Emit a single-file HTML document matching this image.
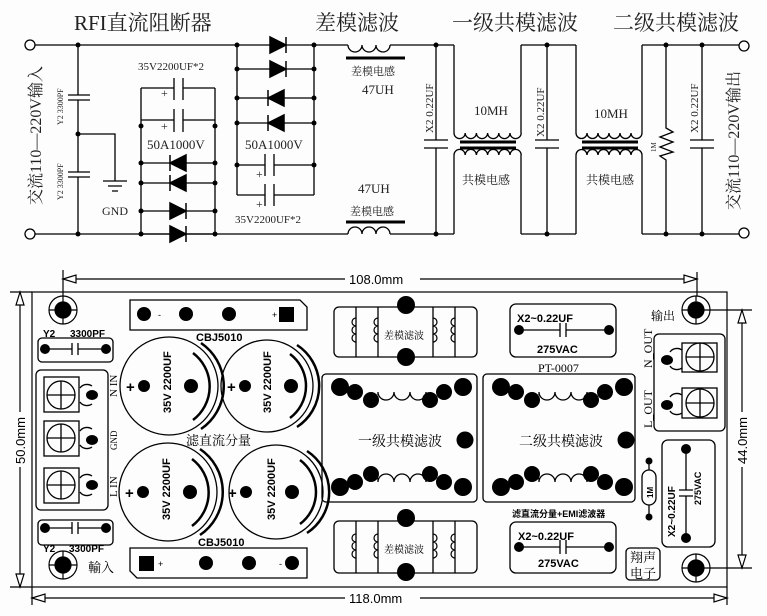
<!DOCTYPE html>
<html><head><meta charset="utf-8"><style>
html,body{margin:0;padding:0;background:#fff;}
svg{display:block;}
.s{font-family:"Liberation Serif","Noto Serif CJK SC",serif;}
.b{font-family:"Liberation Sans","Noto Sans CJK SC",sans-serif;font-weight:bold;}
</style></head><body>
<svg width="767" height="616" viewBox="0 0 767 616" xmlns="http://www.w3.org/2000/svg">
<rect width="767" height="616" fill="#fdfdfd"/>
<g stroke="#000" stroke-width="1.3" fill="none">
<circle cx="30" cy="45" r="5" fill="#fff"/>
<circle cx="30" cy="234" r="5" fill="#fff"/>
<circle cx="744" cy="46" r="5" fill="#fff"/>
<circle cx="744" cy="233" r="5" fill="#fff"/>
<path d="M35 45H348M390 45H454M521 45H576M642 45H739"/>
<path d="M35 234H348M390 234H454M521 234H576M642 234H739"/>
<path d="M78 45V95M78 100V172M78 177V234M68 95H90M68 100H90M68 172H90M68 177H90"/>
<path d="M78 134H115V181M103 181H127M108 186H122M112 191H118"/>
<path d="M141 88V234M215 88V234M141 88H174M183 88H215M174 78V100M183 78V100M141 120H174M183 120H215M174 109V132M183 109V132"/>
<path d="M141 163H215M141 183H215M141 211H215M141 234H215"/>
<path d="M237 45V195M314 45V195M237 69H314M237 98H314M237 123H314M237 165H265M274 165H314M265 154V176M274 154V176M237 195H265M274 195H314M265 184V206M274 184V206"/>
<path d="M348 45a7 7 0 0 0 14 0a7 7 0 0 0 14 0a7 7 0 0 0 14 0"/>
<path d="M348 234a7 7 0 0 1 14 0a7 7 0 0 1 14 0a7 7 0 0 1 14 0"/>
<path d="M436 45V140M436 148V234M424 140H448M424 148H448"/>
<path d="M454 45V133M521 45V133M454 155V234M521 155V234"/>
<path d="M454 133a5.6 5.6 0 0 0 11.2 0a5.6 5.6 0 0 0 11.2 0a5.6 5.6 0 0 0 11.2 0a5.6 5.6 0 0 0 11.2 0a5.6 5.6 0 0 0 11.2 0a5.6 5.6 0 0 0 11.2 0"/>
<path d="M454 155a5.6 5.6 0 0 1 11.2 0a5.6 5.6 0 0 1 11.2 0a5.6 5.6 0 0 1 11.2 0a5.6 5.6 0 0 1 11.2 0a5.6 5.6 0 0 1 11.2 0a5.6 5.6 0 0 1 11.2 0"/>
<path d="M547 45V140M547 148V234M535 140H559M535 148H559"/>
<path d="M576 45V133M642 45V133M576 155V234M642 155V234"/>
<path d="M576 133a5.5 5.5 0 0 0 11 0a5.5 5.5 0 0 0 11 0a5.5 5.5 0 0 0 11 0a5.5 5.5 0 0 0 11 0a5.5 5.5 0 0 0 11 0a5.5 5.5 0 0 0 11 0"/>
<path d="M576 155a5.5 5.5 0 0 1 11 0a5.5 5.5 0 0 1 11 0a5.5 5.5 0 0 1 11 0a5.5 5.5 0 0 1 11 0a5.5 5.5 0 0 1 11 0a5.5 5.5 0 0 1 11 0"/>
<path d="M666 45V128L673 132L660 137L673 142L660 147L673 152L660 156L666 160V234"/>
<path d="M702 45V140M702 148V234M690 140H714M690 148H714"/>
</g>
<g stroke="#000" stroke-width="3">
<path d="M346 58H405M346 222H405M460 142H516M460 148H516M582 142H638M582 148H638"/>
</g>
<g fill="#000" stroke="#000" stroke-width="1.5">
<polygon points="186,155 186,171 170,163"/><path d="M170 155V171"/>
<polygon points="186,175 186,191 170,183"/><path d="M170 175V191"/>
<polygon points="170,203 170,219 186,211"/><path d="M186 203V219"/>
<polygon points="170,226 170,242 186,234"/><path d="M186 226V242"/>
<polygon points="270,37 270,53 286,45"/><path d="M286 37V53"/>
<polygon points="270,61 270,77 286,69"/><path d="M286 61V77"/>
<polygon points="284,90 284,106 268,98"/><path d="M268 90V106"/>
<polygon points="284,115 284,131 268,123"/><path d="M268 115V131"/>
</g>
<g fill="#000">
<circle cx="78" cy="45" r="2.5"/><circle cx="78" cy="234" r="2.5"/><circle cx="78" cy="134" r="2.5"/>
<circle cx="141" cy="126" r="2.5"/><circle cx="215" cy="126" r="2.5"/>
<circle cx="141" cy="163" r="2.5"/><circle cx="215" cy="163" r="2.5"/><circle cx="141" cy="183" r="2.5"/><circle cx="215" cy="183" r="2.5"/>
<circle cx="141" cy="211" r="2.5"/><circle cx="215" cy="211" r="2.5"/><circle cx="141" cy="234" r="2.5"/><circle cx="215" cy="234" r="2.5"/>
<circle cx="237" cy="45" r="2.5"/><circle cx="314" cy="45" r="2.5"/><circle cx="237" cy="69" r="2.5"/><circle cx="314" cy="69" r="2.5"/>
<circle cx="237" cy="98" r="2.5"/><circle cx="314" cy="98" r="2.5"/><circle cx="237" cy="123" r="2.5"/><circle cx="314" cy="123" r="2.5"/>
<circle cx="237" cy="165" r="2.5"/><circle cx="314" cy="165" r="2.5"/>
<circle cx="436" cy="45" r="2.5"/><circle cx="436" cy="234" r="2.5"/><circle cx="547" cy="45" r="2.5"/><circle cx="547" cy="234" r="2.5"/>
<circle cx="666" cy="45" r="2.5"/><circle cx="666" cy="234" r="2.5"/><circle cx="702" cy="45" r="2.5"/><circle cx="702" cy="234" r="2.5"/>
</g>
<g class="s" fill="#222">
<text x="74" y="30" font-size="21">RFI直流阻断器</text>
<text x="315" y="30" font-size="21">差模滤波</text>
<text x="452" y="30" font-size="21">一级共模滤波</text>
<text x="613" y="30" font-size="21">二级共模滤波</text>
<text x="138" y="70" font-size="11">35V2200UF*2</text>
<text x="147" y="149" font-size="13">50A1000V</text>
<text x="245" y="149" font-size="13">50A1000V</text>
<text x="235" y="223" font-size="11">35V2200UF*2</text>
<text x="161" y="97" font-size="12">+</text><text x="161" y="130" font-size="12">+</text>
<text x="256" y="178" font-size="12">+</text><text x="256" y="208" font-size="12">+</text>
<text x="102" y="215" font-size="12">GND</text>
<text x="351" y="75" font-size="11">差模电感</text>
<text x="362" y="94" font-size="13">47UH</text>
<text x="358" y="193" font-size="13">47UH</text>
<text x="350" y="215" font-size="11">差模电感</text>
<text x="474" y="115" font-size="13">10MH</text>
<text x="594" y="118" font-size="13">10MH</text>
<text x="462" y="184" font-size="12">共模电感</text>
<text x="586" y="184" font-size="12">共模电感</text>
<text transform="translate(41,205) rotate(-90)" font-size="16">交流110—220V输入</text>
<text transform="translate(739,210) rotate(-90)" font-size="16">交流110—220V输出</text>
<text transform="translate(63,125) rotate(-90)" font-size="8">Y2  3300PF</text>
<text transform="translate(63,200) rotate(-90)" font-size="8">Y2  3300PF</text>
<text transform="translate(433,133) rotate(-90)" font-size="11">X2 0.22UF</text>
<text transform="translate(544,137) rotate(-90)" font-size="11">X2 0.22UF</text>
<text transform="translate(698,133) rotate(-90)" font-size="11">X2 0.22UF</text>
<text transform="translate(656,152) rotate(-90)" font-size="7">1M</text>
</g>

<!-- PCB -->
<g stroke="#000" stroke-width="1.2" fill="none">
<rect x="32" y="292" width="695" height="295"/>
<path d="M63 270V322M32 587V605M727 587V605"/>
<path d="M63 279H345M420 279H697M697 272V300"/>
<path d="M32 598H345M420 598H727"/>
<path d="M20 292V412M20 467V587M10 292H32M10 587H32"/>
<path d="M742 310V412M742 467V568M700 310H752M700 568H752"/>
</g>
<g fill="#fff" stroke="#000" stroke-width="1.2">
<polygon points="63,279 76,275 76,283"/>
<polygon points="697,279 684,275 684,283"/>
<polygon points="32,598 45,594 45,602"/>
<polygon points="727,598 714,594 714,602"/>
<polygon points="20,292 16,305 24,305"/>
<polygon points="20,587 16,574 24,574"/>
<polygon points="742,310 738,323 746,323"/>
<polygon points="742,568 738,555 746,555"/>
</g>
<g font-family="Liberation Sans, sans-serif" font-size="13" fill="#000">
<text x="349" y="284">108.0mm</text>
<text x="349" y="603">118.0mm</text>
<text transform="translate(25,464) rotate(-90)">50.0mm</text>
<text transform="translate(747,464) rotate(-90)">44.0mm</text>
</g>
<g stroke="#000" stroke-width="1.2">
<circle cx="63" cy="310" r="14" fill="#fff"/><circle cx="63" cy="310" r="8" fill="#000"/>
<circle cx="63" cy="565" r="14" fill="#fff"/><circle cx="63" cy="565" r="8" fill="#000"/>
<circle cx="696" cy="310" r="14" fill="#fff"/><circle cx="696" cy="310" r="8" fill="#000"/>
<circle cx="696" cy="568" r="14" fill="#fff"/><circle cx="696" cy="568" r="8" fill="#000"/>
<path d="M49 310H77M63 296V324M49 565H77M63 551V579M682 310H710M696 296V324M682 568H710M696 554V582" fill="none"/>
</g>
<g stroke="#000" stroke-width="1.3" fill="none">
<rect x="38" y="338" width="75" height="24" rx="4"/>
<rect x="38" y="520" width="75" height="25" rx="4"/>
<rect x="36" y="370" width="72" height="140" rx="5"/>
<rect x="44" y="377" width="35" height="35"/><rect x="44" y="421" width="35" height="35"/><rect x="44" y="468" width="35" height="35"/>
<circle cx="61" cy="395" r="14"/><circle cx="61" cy="438" r="14"/><circle cx="61" cy="485" r="14"/>
<path d="M47 395H75M61 381V409M47 438H75M61 424V452M47 485H75M61 471V499"/>
<path d="M80 388a8 7 0 0 1 12 -2M80 402a8 7 0 0 0 12 2M80 431a8 7 0 0 1 12 -2M80 445a8 7 0 0 0 12 2M80 478a8 7 0 0 1 12 -2M80 492a8 7 0 0 0 12 2"/>
<path d="M45 349H72M78 349H106M72 343V355M78 343V355M45 528H72M78 528H106M72 522V534M78 522V534"/>
<path d="M130 300H300L307 307V330H130Z"/>
<path d="M130 548H307V578H137L130 571Z"/>
<circle cx="169" cy="386" r="49"/><circle cx="267" cy="386" r="46"/>
<circle cx="168" cy="492" r="49"/><circle cx="276" cy="492" r="47"/>
<rect x="334" y="307" width="143" height="50" rx="5"/>
<rect x="334" y="521" width="143" height="52" rx="5"/>
<path d="M356 307V357M378 307V357M433 307V357M455 307V357"/>
<path d="M356 521V573M378 521V573M433 521V573M455 521V573"/>
<rect x="322" y="374" width="155" height="128" rx="4"/>
<rect x="483" y="374" width="152" height="128" rx="4"/>
<rect x="510" y="304" width="106" height="53" rx="6"/>
<rect x="510" y="522" width="106" height="51" rx="6"/>
<path d="M519 330H560M566 330H609M560 323V337M566 323V337M519 547H560M566 547H609M560 540V554M566 540V554"/>
<rect x="626" y="548" width="34" height="32" rx="4"/>
<rect x="654" y="334" width="71" height="97" rx="5"/>
<rect x="682" y="343" width="35" height="29"/><rect x="682" y="388" width="35" height="30"/>
<circle cx="700" cy="357" r="14"/><circle cx="700" cy="403" r="14"/>
<path d="M686 357H714M700 343V371M686 403H714M700 389V417"/>
<path d="M670 352a8 7 0 0 1 12 -2M670 366a8 7 0 0 0 12 2M670 397a8 7 0 0 1 12 -2M670 411a8 7 0 0 0 12 2"/>
<rect x="642" y="470" width="14" height="35" rx="7"/>
<path d="M649 461V470M649 505V517"/>
<rect x="662" y="440" width="53" height="107" rx="6"/>
<path d="M686 449V490M686 496V538M679 490H693M679 496H693"/>
</g>
<g stroke="#000" stroke-width="2.5" fill="none">
<path d="M193 353A42 42 0 0 1 193 420"/><path d="M201 343A52 52 0 0 1 201 429"/>
<path d="M290 354A40 40 0 0 1 290 418"/><path d="M297 345A49 49 0 0 1 297 427"/>
<path d="M192 459A42 42 0 0 1 192 526"/><path d="M200 449A52 52 0 0 1 200 535"/>
<path d="M300 460A40 40 0 0 1 300 524"/><path d="M307 451A49 49 0 0 1 307 533"/>
</g>
<g fill="#000">
<circle cx="45" cy="349" r="5"/><circle cx="106" cy="349" r="5"/><circle cx="45" cy="528" r="5"/><circle cx="106" cy="528" r="5"/>
<ellipse cx="92" cy="395" rx="6" ry="5"/><ellipse cx="92" cy="440" rx="6" ry="5"/><ellipse cx="92" cy="485" rx="6" ry="5"/>
<circle cx="144" cy="314" r="7"/><circle cx="186" cy="314" r="7"/><circle cx="229" cy="314" r="7"/><rect x="279" y="307" width="15" height="15"/>
<rect x="139" y="556" width="15" height="15"/><circle cx="206" cy="563" r="7"/><circle cx="249" cy="563" r="7"/><circle cx="292" cy="563" r="7"/>
<circle cx="144" cy="386" r="6"/><circle cx="191" cy="386" r="7"/><circle cx="245" cy="386" r="6"/><circle cx="291" cy="386" r="7"/>
<circle cx="143" cy="492" r="6"/><circle cx="190" cy="492" r="7"/><circle cx="246" cy="492" r="6"/><circle cx="292" cy="492" r="7"/>
<circle cx="406" cy="305" r="9"/><circle cx="406" cy="357" r="9"/><circle cx="406" cy="518" r="9"/><circle cx="406" cy="572" r="9"/>
<circle cx="519" cy="330" r="5"/><circle cx="609" cy="330" r="5"/><circle cx="519" cy="547" r="5"/><circle cx="609" cy="547" r="5"/>
<ellipse cx="667" cy="360" rx="6" ry="5"/><ellipse cx="667" cy="405" rx="6" ry="5"/>
<circle cx="649" cy="461" r="3.5"/><circle cx="649" cy="517" r="3.5"/>
<circle cx="686" cy="449" r="5"/><circle cx="686" cy="538" r="5"/>
</g>
<g id="cm1">
<path d="M378 395V392a8 8 0 0 0 16 0a8 8 0 0 0 16 0a8 8 0 0 0 16 0V395" stroke="#000" stroke-width="1.3" fill="none"/>
<path d="M378 478V482a8 8 0 0 1 16 0a8 8 0 0 1 16 0a8 8 0 0 1 16 0V478" stroke="#000" stroke-width="1.3" fill="none"/>
<g fill="#000">
<circle cx="340" cy="387" r="9"/><circle cx="355" cy="392" r="8"/><circle cx="371" cy="400" r="8"/><circle cx="430" cy="400" r="8"/><circle cx="444" cy="392" r="8"/><circle cx="463" cy="387" r="9"/>
<circle cx="465" cy="440" r="8.5"/>
<circle cx="340" cy="487" r="9"/><circle cx="355" cy="482" r="8"/><circle cx="371" cy="474" r="8"/><circle cx="430" cy="474" r="8"/><circle cx="444" cy="482" r="8"/><circle cx="463" cy="487" r="9"/>
</g>
</g>
<use href="#cm1" transform="translate(161,0)"/>
<g stroke="#000" stroke-width="1.2" fill="none">
<path d="M356 318a4 4 0 0 0 0 8a4 4 0 0 0 0 8a4 4 0 0 0 0 8M378 318a4 4 0 0 0 0 8a4 4 0 0 0 0 8a4 4 0 0 0 0 8M433 318a4 4 0 0 1 0 8a4 4 0 0 1 0 8a4 4 0 0 1 0 8M455 318a4 4 0 0 0 0 8a4 4 0 0 0 0 8a4 4 0 0 0 0 8"/>
<path d="M356 534a4 4 0 0 0 0 8a4 4 0 0 0 0 8a4 4 0 0 0 0 8M378 534a4 4 0 0 0 0 8a4 4 0 0 0 0 8a4 4 0 0 0 0 8M433 534a4 4 0 0 1 0 8a4 4 0 0 1 0 8a4 4 0 0 1 0 8M455 534a4 4 0 0 0 0 8a4 4 0 0 0 0 8a4 4 0 0 0 0 8"/>
</g>
<g class="b" fill="#000" font-size="10">
<text x="43" y="337">Y2</text><text x="70" y="337">3300PF</text>
<text x="43" y="552">Y2</text><text x="69" y="552">3300PF</text>
<text x="196" y="341" font-size="11">CBJ5010</text>
<text x="198" y="546" font-size="11">CBJ5010</text>
<text x="158" y="318" font-size="9" font-weight="normal">-</text><text x="272" y="318" font-size="9" font-weight="normal">+</text>
<text x="158" y="567" font-size="9" font-weight="normal">+</text><text x="279" y="567" font-size="9" font-weight="normal">-</text>
<text x="126" y="392" font-size="15">+</text><text x="227" y="392" font-size="15">+</text>
<text x="125" y="498" font-size="15">+</text><text x="228" y="498" font-size="15">+</text>
<text transform="translate(171,413) rotate(-90)" font-size="11">35V 2200UF</text>
<text transform="translate(271,413) rotate(-90)" font-size="11">35V 2200UF</text>
<text transform="translate(170,520) rotate(-90)" font-size="11">35V 2200UF</text>
<text transform="translate(275,520) rotate(-90)" font-size="11">35V 2200UF</text>
<text x="517" y="322" font-size="11">X2~0.22UF</text><text x="537" y="353" font-size="11">275VAC</text>
<text x="518" y="540" font-size="11">X2~0.22UF</text><text x="538" y="567" font-size="11">275VAC</text>
<text x="512" y="517" font-size="9">滤直流分量+EMI滤波器</text>
<text transform="translate(675,537) rotate(-90)" font-size="10">X2~0.22UF</text>
<text transform="translate(701,505) rotate(-90)" font-size="9">275VAC</text>
<text transform="translate(653,498) rotate(-90)" font-size="8">1M</text>
</g>
<g class="s" fill="#000">
<text x="186" y="445" font-size="13">滤直流分量</text>
<text x="384" y="339" font-size="10">差模滤波</text>
<text x="384" y="553" font-size="10">差模滤波</text>
<text x="358" y="446" font-size="14">一级共模滤波</text>
<text x="519" y="446" font-size="14">二级共模滤波</text>
<text x="538" y="372" font-size="12">PT-0007</text>
<text x="88" y="572" font-size="13">輸入</text>
<text x="651" y="320" font-size="12">输出</text>
<text x="630" y="562" font-size="13">翔声</text>
<text x="630" y="578" font-size="13">电子</text>
<text transform="translate(117,397) rotate(-90)" font-size="11">N IN</text>
<text transform="translate(117,450) rotate(-90)" font-size="9">GND</text>
<text transform="translate(117,497) rotate(-90)" font-size="11">L IN</text>
<text transform="translate(652,368) rotate(-90)" font-size="12">N_OUT</text>
<text transform="translate(652,428) rotate(-90)" font-size="12">L_OUT</text>
</g>
</svg>
</body></html>
